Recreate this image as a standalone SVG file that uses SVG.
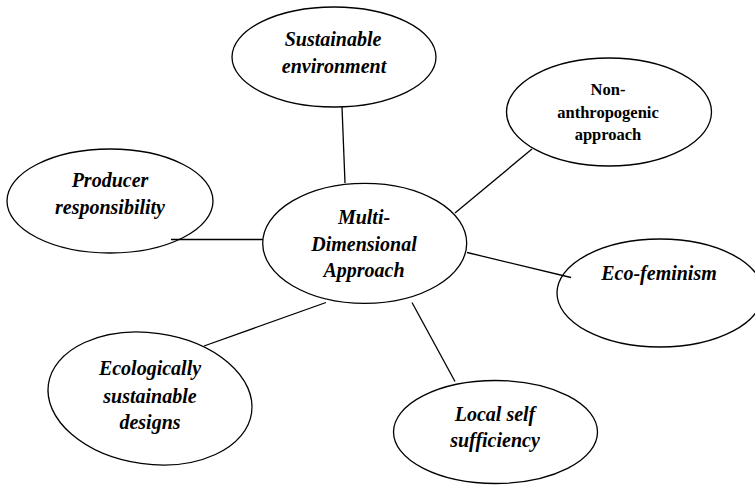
<svg xmlns="http://www.w3.org/2000/svg" width="755" height="485" viewBox="0 0 755 485">
<style>
.n{fill:#fff;stroke:#000;stroke-width:1.3}
.c{stroke:#000;stroke-width:1.3;fill:none}
.t{font-family:"Liberation Serif","Times New Roman",serif;font-size:20px;font-weight:bold;font-style:italic;text-anchor:middle;fill:#000}
.u{font-family:"Liberation Serif","Times New Roman",serif;font-size:16.5px;font-weight:bold;text-anchor:middle;fill:#000}
</style>
<rect width="755" height="485" fill="#fff"/>
<g id="sustainable">
<ellipse class="n" cx="334" cy="57" rx="102" ry="50"/>
<text class="t" x="333" y="46">Sustainable</text>
<text class="t" x="334" y="73">environment</text>
</g>
<g id="nonanthro">
<ellipse class="n" cx="609" cy="112" rx="102.5" ry="54"/>
<text class="u" x="608" y="94.5">Non-</text>
<text class="u" x="608" y="118">anthropogenic</text>
<text class="u" x="608" y="139.5">approach</text>
</g>
<g id="producer">
<ellipse class="n" cx="110" cy="201" rx="103" ry="52"/>
<text class="t" x="110" y="187">Producer</text>
<text class="t" x="110" y="213.5">responsibility</text>
</g>
<g id="center">
<ellipse class="n" cx="364.7" cy="243.3" rx="102" ry="60"/>
<text class="t" x="364" y="224">Multi-</text>
<text class="t" x="364" y="250.5">Dimensional</text>
<text class="t" x="364" y="277">Approach</text>
</g>
<g id="ecofeminism">
<ellipse class="n" cx="660" cy="293" rx="103" ry="54"/>
<text class="t" x="659" y="279.5">Eco-feminism</text>
</g>
<g id="ecological">
<ellipse class="n" cx="150" cy="398.5" rx="102.6" ry="65.6" transform="rotate(8 150 398.5)"/>
<text class="t" x="150" y="375">Ecologically</text>
<text class="t" x="150" y="403">sustainable</text>
<text class="t" x="150" y="428.5">designs</text>
</g>
<g id="local">
<ellipse class="n" cx="495.5" cy="432" rx="102" ry="51.5"/>
<text class="t" x="495" y="421">Local self</text>
<text class="t" x="495" y="447">sufficiency</text>
</g>
<g id="connectors">
<line class="c" x1="342" y1="107" x2="345" y2="183"/>
<line class="c" x1="455" y1="213" x2="532" y2="149"/>
<line class="c" x1="171" y1="239.5" x2="263" y2="239.5"/>
<line class="c" x1="467" y1="252.5" x2="571" y2="277.5"/>
<line class="c" x1="326" y1="302.5" x2="204" y2="346"/>
<line class="c" x1="412" y1="302.5" x2="455" y2="381.5"/>
</g>
</svg>
